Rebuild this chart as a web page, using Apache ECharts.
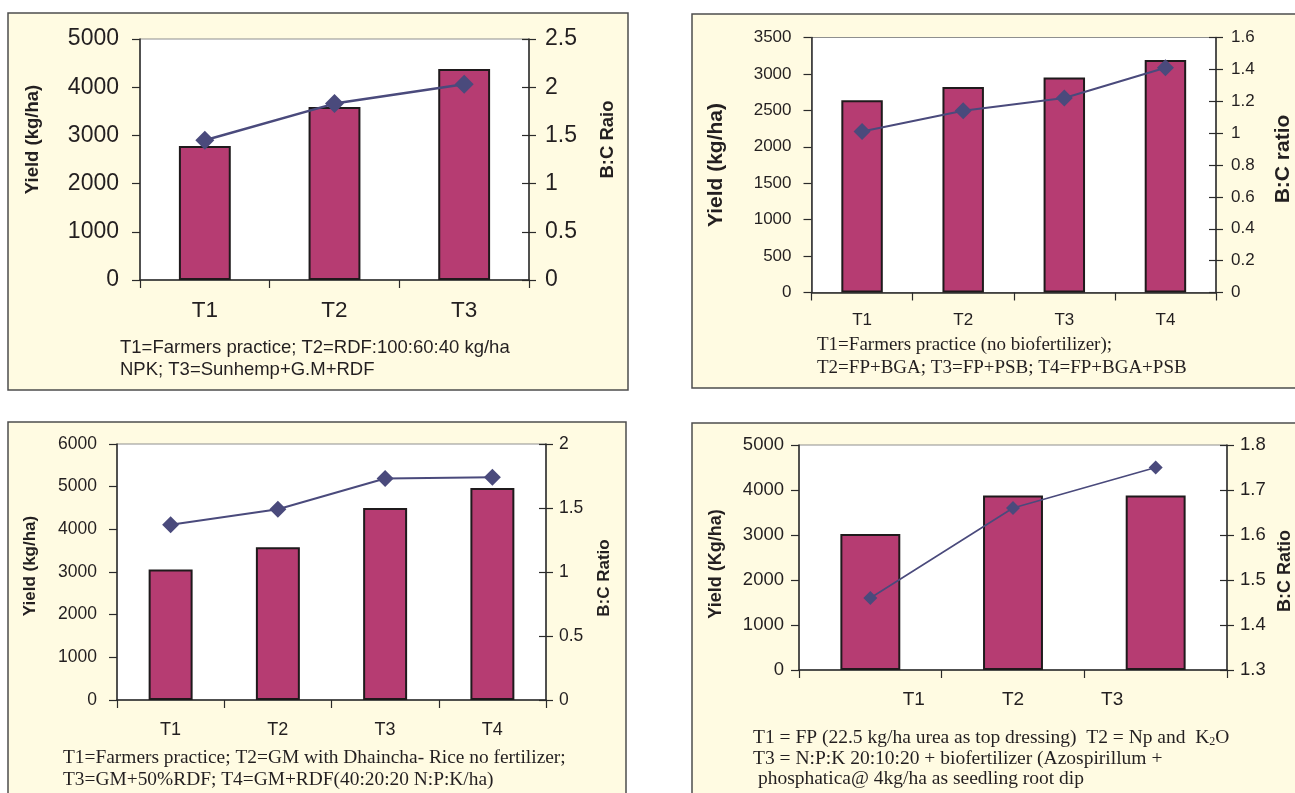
<!DOCTYPE html>
<html>
<head>
<meta charset="utf-8">
<script src="https://cdn.jsdelivr.net/npm/echarts@6/dist/echarts.min.js"></script>
<style>
  html, body { margin: 0; padding: 0; background: #ffffff; }
  #chart { width: 1295px; height: 793px; }
</style>
</head>
<body>
<div id="chart"></div>
<script>
// Trial A: green manure with Sunhemp
const aCategories = ['T1', 'T2', 'T3'];
const aYield = [2780, 3590, 4380];
const aRatio = [1.45, 1.83, 2.03];
const aYieldScale = [0, 5000, 1000];
const aRatioScale = [0, 2.5, 0.5];
const aCaption = ['T1=Farmers practice; T2=RDF:100:60:40 kg/ha', 'NPK; T3=Sunhemp+G.M+RDF'];

// Trial B: biofertilizers BGA and PSB
const bCategories = ['T1', 'T2', 'T3', 'T4'];
const bYield = [2640, 2820, 2950, 3190];
const bRatio = [1.01, 1.14, 1.22, 1.41];
const bYieldScale = [0, 3500, 500];
const bRatioScale = [0, 1.6, 0.2];
const bCaption = ['T1=Farmers practice (no biofertilizer);', 'T2=FP+BGA; T3=FP+PSB; T4=FP+BGA+PSB'];

// Trial C: green manure with Dhaincha
const cCategories = ['T1', 'T2', 'T3', 'T4'];
const cYield = [3060, 3580, 4500, 4970];
const cRatio = [1.37, 1.49, 1.73, 1.74];
const cYieldScale = [0, 6000, 1000];
const cRatioScale = [0, 2, 0.5];
const cCaption = ['T1=Farmers practice; T2=GM with Dhaincha- Rice no fertilizer;', 'T3=GM+50%RDF; T4=GM+RDF(40:20:20 N:P:K/ha)'];

// Trial D: Azospirillum + phosphatica root dip
const dCategories = ['T1', 'T2', 'T3'];
const dYield = [3020, 3880, 3880];
const dRatio = [1.46, 1.66, 1.75];
const dYieldScale = [0, 5000, 1000];
const dRatioScale = [1.3, 1.8, 0.1];

const BAR = '#b63c72';
const BAR_EDGE = '#1f1a1c';
const LINE = '#4a4a7c';
const INK = '#231f20';
const AXIS = '#2a2a2a';
const PANEL_BG = '#fffbe2';
const SANS = 'Liberation Sans';
const SERIF = 'Liberation Serif';

const panels = [
  {
    box: [8, 13, 620, 377],
    grid: { left: 140, top: 39, width: 389, height: 241 },
    cats: aCategories, yieldData: aYield, ratioData: aRatio,
    ys: aYieldScale, rs: aRatioScale,
    tickFont: 23, leftMargin: 21, rightMargin: 16, catFont: 22.5, catMargin: 19,
    yName: 'Yield (kg/ha)', rName: 'B:C Raio', nameFont: 18.5,
    yNameGap: 98, rNameGap: 69, yNameShift: 20, rNameShift: 20,
    barWidth: '40%', sym: 19, lineW: 2.5
  },
  {
    box: [692, 14, 640, 374],
    grid: { left: 811.5, top: 37.5, width: 405, height: 255 },
    cats: bCategories, yieldData: bYield, ratioData: bRatio,
    ys: bYieldScale, rs: bRatioScale,
    tickFont: 17, leftMargin: 20, rightMargin: 15, catFont: 17, catMargin: 19,
    yName: 'Yield (kg/ha)', rName: 'B:C ratio', nameFont: 21,
    yNameGap: 85, rNameGap: 57, yNameShift: 0, rNameShift: 6,
    barWidth: '41%', sym: 17, lineW: 2
  },
  {
    box: [8, 422, 618, 400],
    grid: { left: 117, top: 444, width: 429, height: 256 },
    cats: cCategories, yieldData: cYield, ratioData: cRatio,
    ys: cYieldScale, rs: cRatioScale,
    tickFont: 17.5, leftMargin: 20, rightMargin: 13, catFont: 18, catMargin: 21,
    yName: 'Yield (kg/ha)', rName: 'B:C Ratio', nameFont: 17,
    yNameGap: 78, rNameGap: 50, yNameShift: 6, rNameShift: -6,
    barWidth: '41%', sym: 17, lineW: 2
  },
  {
    box: [692, 423, 640, 400],
    grid: { left: 799, top: 445, width: 429, height: 225 },
    cats: dCategories, yieldData: dYield, ratioData: dRatio,
    ys: dYieldScale, rs: dRatioScale,
    tickFont: 18.5, leftMargin: 15, rightMargin: 13, catFont: 19, catMargin: 20,
    yName: 'Yield (Kg/ha)', rName: 'B:C Ratio', nameFont: 18,
    yNameGap: 74, rNameGap: 49, yNameShift: -6.5, rNameShift: -13.5,
    barWidth: '42%', sym: 14, lineW: 1.6,
    // category labels of this chart sit on an even spacing round the middle one
    catShift: [43.5, 0, -43.5]
  }
];

const grids = [], xAxes = [], yAxes = [], series = [], graphics = [];

// shift > 0 moves a rotated name up along its axis
function namePad(shift) {
  return shift >= 0 ? [0, 0, 0, 2 * shift] : [0, -2 * shift, 0, 0];
}
const plainNumber = v => String(Math.round(v * 1000) / 1000);

panels.forEach((p, i) => {
  graphics.push({
    type: 'rect', z: -10,
    shape: { x: p.box[0], y: p.box[1], width: p.box[2], height: p.box[3] },
    style: { fill: PANEL_BG, stroke: '#4d4d4d', lineWidth: 1.5 }
  });

  grids.push(Object.assign({
    show: true, backgroundColor: '#ffffff', borderColor: '#8f8f8f', borderWidth: 1
  }, p.grid));

  const catLabel = {
    color: INK, fontFamily: SANS, fontSize: p.catFont, margin: p.catMargin
  };
  if (p.catShift) {
    const rich = {};
    p.catShift.forEach((s, k) => {
      rich['c' + k] = {
        fontFamily: SANS, fontSize: p.catFont, color: INK,
        padding: s >= 0 ? [0, 0, 0, 2 * s] : [0, -2 * s, 0, 0]
      };
    });
    catLabel.formatter = (v, k) => '{c' + k + '|' + v + '}';
    catLabel.rich = rich;
  }
  xAxes.push({
    type: 'category', gridIndex: i, data: p.cats, boundaryGap: true,
    axisLine: { lineStyle: { color: AXIS, width: 1.5 } },
    axisTick: { show: true, length: 8, lineStyle: { color: AXIS, width: 1.2 } },
    axisLabel: catLabel,
    splitLine: { show: false }
  });

  const base = yAxes.length;
  // yield axis (left)
  yAxes.push({
    type: 'value', gridIndex: i, position: 'left',
    min: p.ys[0], max: p.ys[1], interval: p.ys[2],
    name: p.yName, nameLocation: 'middle', nameRotate: 90, nameGap: p.yNameGap,
    nameTextStyle: { fontFamily: SANS, fontWeight: 'bold', fontSize: p.nameFont, color: INK, padding: namePad(p.yNameShift) },
    axisLine: { show: true, lineStyle: { color: AXIS, width: 1.5 } },
    axisTick: { show: true, length: 8, lineStyle: { color: AXIS, width: 1.2 } },
    axisLabel: { color: INK, fontFamily: SANS, fontSize: p.tickFont, margin: p.leftMargin, formatter: plainNumber },
    splitLine: { show: false }
  });
  // ratio axis (right)
  yAxes.push({
    type: 'value', gridIndex: i, position: 'right',
    min: p.rs[0], max: p.rs[1], interval: p.rs[2],
    name: p.rName, nameLocation: 'middle', nameRotate: 90, nameGap: p.rNameGap,
    nameTextStyle: { fontFamily: SANS, fontWeight: 'bold', fontSize: p.nameFont, color: INK, padding: namePad(p.rNameShift) },
    axisLine: { show: true, lineStyle: { color: AXIS, width: 1.5 } },
    axisTick: { show: true, length: 7, lineStyle: { color: AXIS, width: 1.2 } },
    axisLabel: { color: INK, fontFamily: SANS, fontSize: p.tickFont, margin: p.rightMargin, formatter: plainNumber },
    splitLine: { show: false }
  });
  // inner half of the crossing ticks on the ratio axis
  yAxes.push({
    type: 'value', gridIndex: i, position: 'right',
    min: p.rs[0], max: p.rs[1], interval: p.rs[2],
    axisLine: { show: false },
    axisTick: { show: true, inside: true, length: 7, lineStyle: { color: AXIS, width: 1.2 } },
    axisLabel: { show: false },
    splitLine: { show: false }
  });

  series.push({
    type: 'bar', xAxisIndex: i, yAxisIndex: base, data: p.yieldData,
    barWidth: p.barWidth,
    itemStyle: { color: BAR, borderColor: BAR_EDGE, borderWidth: 2 },
    z: 2
  });
  series.push({
    type: 'line', xAxisIndex: i, yAxisIndex: base + 1, data: p.ratioData,
    symbol: 'diamond', symbolSize: p.sym,
    lineStyle: { color: LINE, width: p.lineW },
    itemStyle: { color: LINE },
    z: 3
  });
});

// treatment captions under each chart
function caption(lines, x, y0, step, font, family) {
  lines.forEach((t, k) => {
    graphics.push({
      type: 'text', x: x, y: y0 + k * step,
      style: { text: t, fill: INK, font: font + 'px "' + family + '"', textVerticalAlign: 'middle' }
    });
  });
}
caption(aCaption, 120, 348, 21.5, 18.5, SANS);
caption(bCaption, 817, 345, 23, 19, SERIF);
caption(cCaption, 63, 758, 22, 19.4, SERIF);

// trial D caption carries a subscript in K2O
const dRich = {
  n: { fontFamily: SERIF, fontSize: 19.5, color: INK, lineHeight: 20.5 },
  s: { fontFamily: SERIF, fontSize: 12, color: INK, lineHeight: 20.5, padding: [7, 0, 0, 0] }
};
graphics.push({
  type: 'text', x: 753, y: 728,
  style: {
    text: '{n|T1 = FP (22.5 kg/ha urea as top dressing)  T2 = Np and  K}{s|2}{n|O}\n' +
          '{n|T3 = N:P:K 20:10:20 + biofertilizer (Azospirillum +}\n' +
          '{n| phosphatica@ 4kg/ha as seedling root dip}',
    rich: dRich, fill: INK
  }
});

const chart = echarts.init(document.getElementById('chart'), null, { renderer: 'canvas' });
chart.setOption({
  animation: false,
  backgroundColor: '#ffffff',
  grid: grids,
  xAxis: xAxes,
  yAxis: yAxes,
  series: series,
  graphic: graphics
});
</script>
</body>
</html>
